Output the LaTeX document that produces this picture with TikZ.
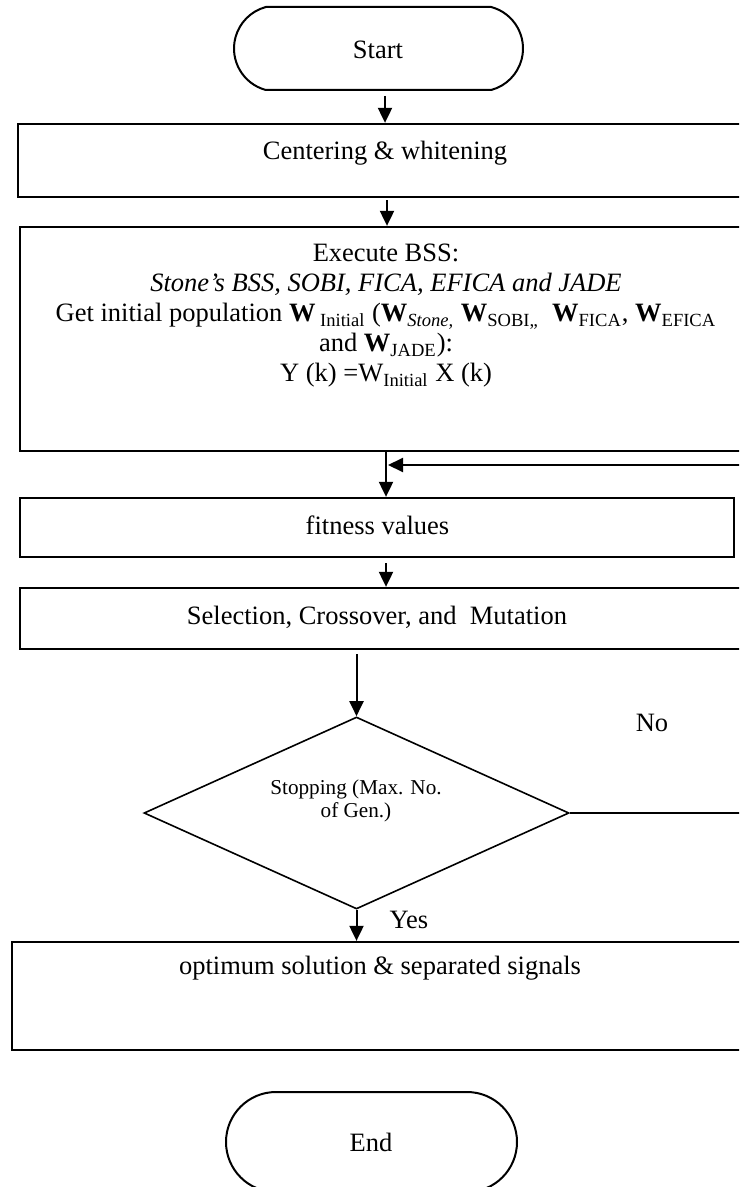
\documentclass[tikz,border=0pt]{standalone}
\usepackage{fontspec}
\setmainfont{Liberation Serif}
\usetikzlibrary{arrows.meta,shapes.geometric,shapes.misc,calc}
\newcommand{\mainfnt}{\fontsize{13.25pt}{15pt}\selectfont\lineskiplimit=-6pt\relax}
\newcommand{\smallfnt}{\fontsize{10.6pt}{11.5pt}\selectfont\lineskiplimit=-6pt\relax}
\begin{document}
\begin{tikzpicture}[x=0.5pt,y=-0.5pt,
  box/.style={draw,line width=1.15pt,rectangle,inner sep=0pt},
  term/.style={draw,line width=1pt,rounded rectangle,inner sep=0pt},
  txt/.style={font={\mainfnt},inner sep=0pt,align=center},
  small/.style={font={\smallfnt},inner sep=0pt,align=center},
  arr/.style={line width=1pt,-{Triangle[width=7pt,length=7.5pt]}},
  link/.style={line width=1pt}]
\useasboundingbox (0,0) rectangle (739,1187);
\clip (0,0) rectangle (739,1187);
% terminals
\node[term,rounded rectangle arc length=150,minimum width=144.5pt,minimum height=41.5pt] (start) at (378.5,48.5) {};
\node[txt] (starttxt) at (378,50) {Start};
\node[term,rounded rectangle arc length=180,minimum width=145.5pt,minimum height=50pt] (end) at (371.5,1142) {};
\node[txt] (endtxt) at (371,1142) {End};
% boxes
\node[box,minimum width=371pt,minimum height=36.5pt] (cent) at (389,160.5) {};
\node[txt] (centtxt) at (385,153) {Centering \& whitening};
\node[box,minimum width=370pt,minimum height=112pt] (exec) at (390,339) {};
\node[txt] (exectxt) at (386,316) {Execute BSS:\\
  \textit{Stone’s BSS, SOBI, FICA, EFICA and JADE}\\
  Get initial population \textbf{W}\textsubscript{\ Initial} (\textbf{W}\textsubscript{\textit{Stone,}} \textbf{W}\textsubscript{SOBI,,}\ \ \textbf{W}\textsubscript{FICA}, \textbf{W}\textsubscript{EFICA}\\
  and \textbf{W}\textsubscript{JADE}):\\
  Y (k) =W\textsubscript{Initial} X (k)};
\node[box,minimum width=357pt,minimum height=29.5pt] (fit) at (377,527.5) {};
\node[txt] (fittxt) at (377.5,525) {fitness values};
\node[box,minimum width=370pt,minimum height=30.5pt] (sel) at (390,618.5) {};
\node[txt] (seltxt) at (377,617) {Selection, Crossover, and\ \ Mutation};
\node[draw,diamond,line width=0.8pt,inner sep=0pt,minimum width=212.5pt,minimum height=96pt] (dia) at (356.5,813) {};
\node[small] (diatxt) at (356,801) {Stopping (Max. No.\\of Gen.)};
\node[box,minimum width=374pt,minimum height=54pt] (opt) at (386,996) {};
\node[txt] (opttxt) at (380,968) {optimum solution \& separated signals};
\node[txt] (no) at (652,723) {No};
\node[txt] (yes) at (409,920) {Yes};
\coordinate (loopin) at (388,465);
% connectors
\draw[arr] ([xshift=3.25pt,yshift=-2.5pt]start.south) -- ([xshift=3.25pt]start.south |- cent.north);
\draw[arr] ([xshift=-1pt,yshift=-1pt]cent.south) -- ([xshift=-1pt]cent.south |- exec.north);
\draw[arr] ([xshift=-2pt]exec.south) -- ([xshift=-2pt]exec.south |- fit.north);
\draw[arr] ([xshift=4.5pt,yshift=-2.5pt]fit.south) -- ([xshift=4.5pt]fit.south |- sel.north);
\draw[arr] ([yshift=-2pt]sel.south -| dia.north) -- (dia.north);
\draw[arr] (dia.south) -- (dia.south |- opt.north);
\draw[arr] (dia.east) -- ++(220,0) |- (loopin);
\end{tikzpicture}
\end{document}
